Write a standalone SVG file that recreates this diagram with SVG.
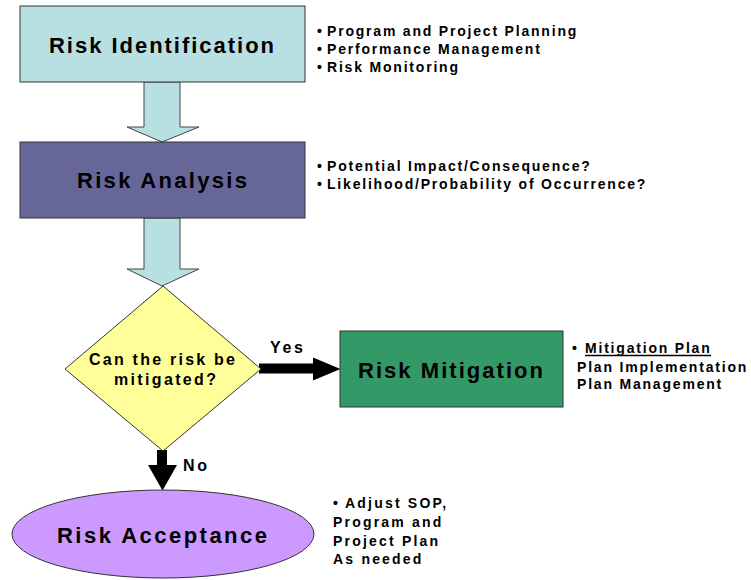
<svg xmlns="http://www.w3.org/2000/svg" width="751" height="580" viewBox="0 0 751 580">
<style>
.node{stroke:#333;stroke-width:1}
.big{font-family:"Liberation Sans",Arial,sans-serif;font-weight:bold;font-size:22px;fill:#000}
.mid{font-family:"Liberation Sans",Arial,sans-serif;font-weight:bold;font-size:16px;fill:#000}
.sm{font-family:"Liberation Sans",Arial,sans-serif;font-weight:bold;font-size:14px;fill:#000;letter-spacing:1.8px}
.blk{fill:#000;stroke:none}
.barrow{fill:#B8E0E2;stroke:#444;stroke-width:1}
</style>
<rect width="751" height="580" fill="#fff"/>
<g id="connectors">
<polygon class="barrow" points="144,82 180,82 180,127 199,127 162,142 127,127 144,127"/>
<polygon class="barrow" points="144,218 180,218 180,269 199,269 162,286 127,269 144,269"/>
<polygon class="blk" points="259,363.5 313,363.5 313,357.5 340.5,369 313,380.5 313,373.5 259,373.5"/>
<polygon class="blk" points="157,450 167,450 167,465 177,465 162.5,490.5 148,465 157,465"/>
<text class="mid" x="270" y="353" textLength="33" lengthAdjust="spacing">Yes</text>
<text class="mid" x="183" y="471" textLength="24" lengthAdjust="spacing">No</text>
</g>
<g id="risk-identification">
<rect class="node" x="20" y="6" width="285" height="76" fill="#B8E0E2"/>
<text class="big" x="49" y="52.5" textLength="225" lengthAdjust="spacing">Risk Identification</text>
</g>
<g id="identification-notes">
<text class="sm" x="317" y="35.5">•<tspan x="327">Program and Project Planning</tspan></text>
<text class="sm" x="317" y="53.7">•<tspan x="327">Performance Management</tspan></text>
<text class="sm" x="317" y="72">•<tspan x="327">Risk Monitoring</tspan></text>
</g>
<g id="risk-analysis">
<rect class="node" x="20" y="142" width="285" height="76" fill="#666699"/>
<text class="big" x="77" y="188" textLength="170" lengthAdjust="spacing">Risk Analysis</text>
</g>
<g id="analysis-notes">
<text class="sm" x="317" y="170.5">•<tspan x="327">Potential Impact/Consequence?</tspan></text>
<text class="sm" x="317" y="189">•<tspan x="327">Likelihood/Probability of Occurrence?</tspan></text>
</g>
<g id="decision">
<polygon class="node" points="163,286 261,369 163,451 65,369" fill="#FFFF99"/>
<text class="mid" x="89" y="365" textLength="146" lengthAdjust="spacing">Can the risk be</text>
<text class="mid" x="114" y="385" textLength="102" lengthAdjust="spacing">mitigated?</text>
</g>
<g id="risk-mitigation">
<rect class="node" x="340" y="331" width="223" height="76" fill="#339966"/>
<text class="big" x="358" y="378" textLength="185" lengthAdjust="spacing">Risk Mitigation</text>
</g>
<g id="mitigation-notes">
<text class="sm" x="572" y="353">•<tspan x="585">Mitigation Plan</tspan></text>
<line x1="585" y1="355.5" x2="711" y2="355.5" stroke="#000" stroke-width="1.3"/>
<text class="sm" x="577" y="372">Plan Implementation</text>
<text class="sm" x="577" y="389">Plan Management</text>
</g>
<g id="risk-acceptance">
<ellipse class="node" cx="163" cy="534" rx="151" ry="44" fill="#CC99FF"/>
<text class="big" x="57" y="543" textLength="210" lengthAdjust="spacing">Risk Acceptance</text>
</g>
<g id="acceptance-notes">
<text class="sm" x="333" y="508" style="letter-spacing:2.2px">•<tspan x="345">Adjust SOP,</tspan></text>
<text class="sm" x="333" y="527" style="letter-spacing:2.2px">Program and</text>
<text class="sm" x="333" y="546" style="letter-spacing:2.2px">Project Plan</text>
<text class="sm" x="333" y="564" style="letter-spacing:2.2px">As needed</text>
</g>
</svg>
